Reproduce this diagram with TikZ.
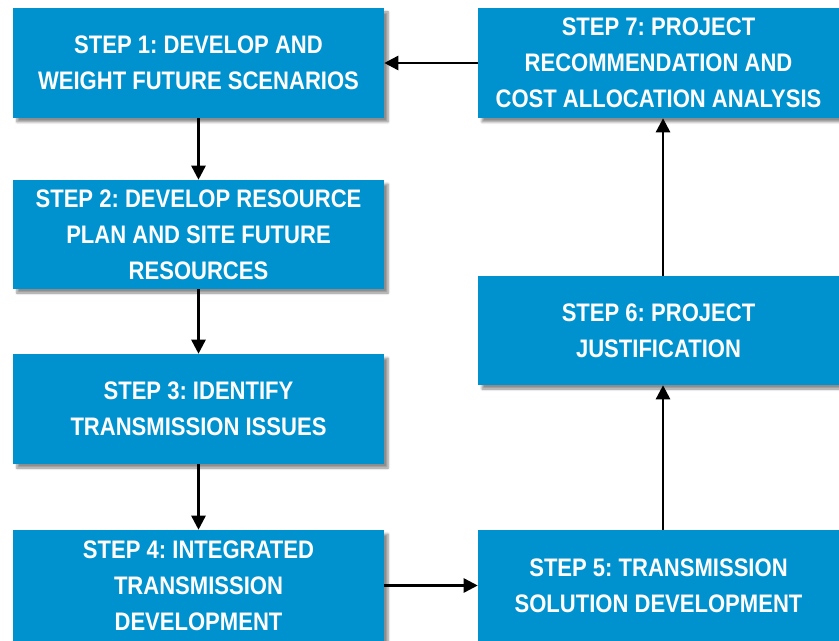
\documentclass[tikz,border=0pt]{standalone}
\usepackage{fontspec}
\newfontfamily\boxfont{Liberation Sans}[FakeStretch=0.87]
\usetikzlibrary{arrows.meta,shadows.blur}
\definecolor{stepblue}{RGB}{0,146,207}
\begin{document}
\begin{tikzpicture}[x=0.75pt,y=-0.75pt,
  stepbox/.style={fill=stepblue, draw=none, text=white, align=center,
    font=\boxfont\bfseries\fontsize{19pt}{27pt}\selectfont\frenchspacing,
    inner sep=0pt, minimum height=#1*0.75pt,
    blur shadow={shadow xshift=3pt, shadow yshift=-3pt, shadow blur steps=6, shadow opacity=45}},
  conn/.style={line width=1.9pt, -{Triangle[length=10.5pt,width=10.5pt]}}]
\useasboundingbox (0,0) rectangle (839,641);
\node[stepbox=110, minimum width=371*0.75pt] (b1) at (198.5,63) {STEP 1: DEVELOP AND\\WEIGHT FUTURE SCENARIOS};
\node[stepbox=109, minimum width=371*0.75pt] (b2) at (198.5,234.5) {STEP 2: DEVELOP RESOURCE\\PLAN AND SITE FUTURE\\RESOURCES};
\node[stepbox=110, minimum width=371*0.75pt] (b3) at (198.5,409) {STEP 3: IDENTIFY\\TRANSMISSION ISSUES};
\node[stepbox=111, minimum width=371*0.75pt] (b4) at (198.5,585.5) {STEP 4: INTEGRATED\\TRANSMISSION\\DEVELOPMENT};
\node[stepbox=111, minimum width=361*0.75pt] (b5) at (658.5,585.5) {STEP 5: TRANSMISSION\\SOLUTION DEVELOPMENT};
\node[stepbox=109, minimum width=361*0.75pt] (b6) at (658.5,330.5) {STEP 6: PROJECT\\JUSTIFICATION};
\node[stepbox=110, minimum width=361*0.75pt, text depth=1.1pt] (b7) at (658.5,63) {STEP 7: PROJECT\\RECOMMENDATION AND\\COST ALLOCATION ANALYSIS};
\draw[conn] (b1) -- (b2);
\draw[conn] (b2) -- (b3);
\draw[conn] (b3) -- (b4);
\draw[conn] (b4) -- (b5);
\draw[conn] ([xshift=3.4pt]b5.north) -- ([xshift=3.4pt]b6.south);
\draw[conn] ([xshift=3.4pt]b6.north) -- ([xshift=3.4pt]b7.south);
\draw[conn] (b7) -- (b1);
\end{tikzpicture}
\end{document}
